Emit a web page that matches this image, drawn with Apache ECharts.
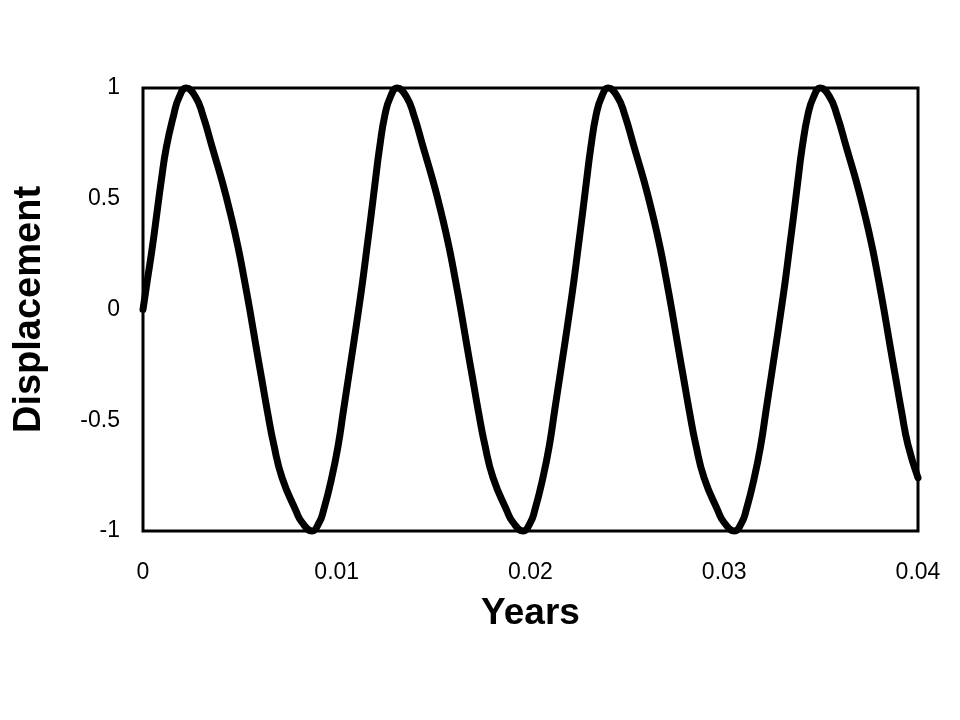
<!DOCTYPE html>
<html>
<head>
<meta charset="utf-8">
<script src="https://cdn.jsdelivr.net/npm/echarts@6/dist/echarts.min.js"></script>
<style>
  html, body { margin: 0; padding: 0; background: #fff; }
  #chart { width: 960px; height: 720px; }
</style>
</head>
<body>
<div id="chart"></div>
<script>
// values
const years = [
  0, 0.00022, 0.00048, 0.00071, 0.00094, 0.00120, 0.00159, 0.00187, 0.00223,
  0.00271, 0.00308, 0.00358, 0.00408, 0.00452, 0.00491, 0.00524, 0.00551,
  0.00582, 0.00612, 0.00642, 0.00675, 0.00718, 0.00790, 0.00820, 0.00872,
  0.00910, 0.00931, 0.00974, 0.01008, 0.01034, 0.01060, 0.01086, 0.01113,
  0.01134, 0.01156, 0.01178, 0.01199, 0.01221, 0.01249, 0.01277, 0.01312,
  0.01360, 0.01397, 0.01447, 0.01497, 0.01541, 0.01580, 0.01613, 0.01640,
  0.01671, 0.01701, 0.01731, 0.01764, 0.01807, 0.01879, 0.01909, 0.01962,
  0.02000, 0.02021, 0.02064, 0.02098, 0.02124, 0.02150, 0.02176, 0.02203,
  0.02224, 0.02246, 0.02268, 0.02289, 0.02311, 0.02339, 0.02367, 0.02401,
  0.02449, 0.02486, 0.02536, 0.02586, 0.02630, 0.02669, 0.02702, 0.02729,
  0.02760, 0.02790, 0.02820, 0.02853, 0.02896, 0.02968, 0.02998, 0.03053,
  0.03091, 0.03112, 0.03155, 0.03189, 0.03215, 0.03241, 0.03267, 0.03294,
  0.03315, 0.03337, 0.03359, 0.03380, 0.03402, 0.03432, 0.03461, 0.03496,
  0.03544, 0.03581, 0.03631, 0.03681, 0.03725, 0.03764, 0.03797, 0.03824,
  0.03855, 0.03885, 0.03915, 0.03948, 0.04
]
const displacement = [
  0, 0.13, 0.28, 0.43, 0.58, 0.73, 0.88, 0.96, 1,
  0.96, 0.88, 0.73, 0.58, 0.43, 0.28, 0.13, 0,
  -0.16, -0.31, -0.46, -0.61, -0.76, -0.91, -0.96, -1,
  -0.96, -0.91, -0.76, -0.61, -0.46, -0.31, -0.16, 0,
  0.13, 0.28, 0.43, 0.58, 0.73, 0.88, 0.96, 1,
  0.96, 0.88, 0.73, 0.58, 0.43, 0.28, 0.13, 0,
  -0.16, -0.31, -0.46, -0.61, -0.76, -0.91, -0.96, -1,
  -0.96, -0.91, -0.76, -0.61, -0.46, -0.31, -0.16, 0,
  0.13, 0.28, 0.43, 0.58, 0.73, 0.88, 0.96, 1,
  0.96, 0.88, 0.73, 0.58, 0.43, 0.28, 0.13, 0,
  -0.16, -0.31, -0.46, -0.61, -0.76, -0.91, -0.96, -1,
  -0.96, -0.91, -0.76, -0.61, -0.46, -0.31, -0.16, 0,
  0.13, 0.28, 0.43, 0.58, 0.73, 0.88, 0.96, 1,
  0.96, 0.88, 0.73, 0.58, 0.43, 0.28, 0.13, 0,
  -0.16, -0.31, -0.46, -0.61, -0.76
]
const xTicks = [0, 0.01, 0.02, 0.03, 0.04]
const yTicks = [-1, -0.5, 0, 0.5, 1]

const points = years.map((t, i) => [t, displacement[i]])

const chart = echarts.init(document.getElementById('chart'))
chart.setOption({
  animation: false,
  grid: {
    left: 143,
    right: 42,
    top: 88,
    bottom: 189,
    show: true,
    borderColor: '#000',
    borderWidth: 3
  },
  xAxis: {
    type: 'value',
    min: xTicks[0],
    max: xTicks[xTicks.length - 1],
    interval: 0.01,
    name: 'Years',
    nameLocation: 'middle',
    nameGap: 64,
    nameTextStyle: {
      fontFamily: 'Liberation Sans',
      fontWeight: 'bold',
      fontSize: 37,
      color: '#000'
    },
    axisLine: { show: false },
    axisTick: { show: false },
    splitLine: { show: false },
    axisLabel: {
      margin: 30,
      fontFamily: 'Liberation Sans',
      fontSize: 23,
      color: '#000'
    }
  },
  yAxis: {
    type: 'value',
    min: yTicks[0],
    max: yTicks[yTicks.length - 1],
    interval: 0.5,
    name: 'Displacement',
    nameLocation: 'middle',
    nameGap: 94,
    nameTextStyle: {
      fontFamily: 'Liberation Sans',
      fontWeight: 'bold',
      fontSize: 38,
      color: '#000'
    },
    axisLine: { show: false },
    axisTick: { show: false },
    splitLine: { show: false },
    axisLabel: {
      margin: 23,
      fontFamily: 'Liberation Sans',
      fontSize: 23,
      color: '#000'
    }
  },
  series: [
    {
      type: 'line',
      data: points,
      smooth: 0.5,
      showSymbol: false,
      clip: false,
      lineStyle: {
        color: '#000',
        width: 7,
        cap: 'round',
        join: 'round'
      }
    }
  ]
})
</script>
</body>
</html>
